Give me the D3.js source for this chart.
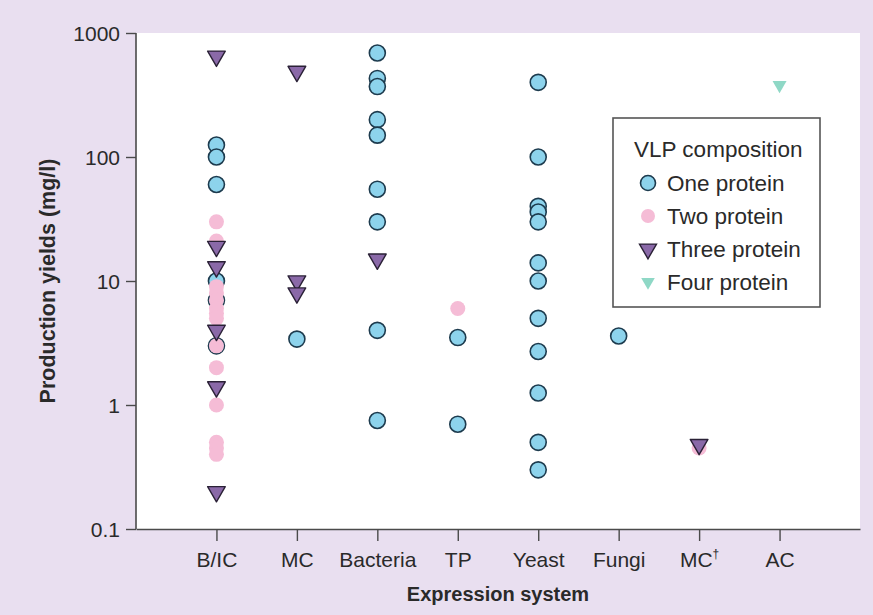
<!DOCTYPE html>
<html>
<head>
<meta charset="utf-8">
<script src="https://cdn.jsdelivr.net/npm/d3@7"></script>
<style>
  html, body { margin: 0; padding: 0; background: #e9dff0; }
  svg { display: block; font-family: "Liberation Sans", Arial, Helvetica, sans-serif; }
</style>
</head>
<body>
<svg id="chart" width="873" height="615"></svg>
<script>
// Expression systems along the x axis
const categories = ["B/IC", "MC", "Bacteria", "TP", "Yeast", "Fungi", "MC\u2020", "AC"];
const yTicks = [0.1, 1, 10, 100, 1000];

// Production yields (mg/l) by VLP composition, as [system, yield]
const oneProtein = [
  ["B/IC", 125], ["B/IC", 100], ["B/IC", 60], ["B/IC", 10], ["B/IC", 7], ["B/IC", 3],
  ["MC", 3.4],
  ["Bacteria", 690], ["Bacteria", 430], ["Bacteria", 370], ["Bacteria", 200], ["Bacteria", 150],
  ["Bacteria", 55], ["Bacteria", 30], ["Bacteria", 4], ["Bacteria", 0.75],
  ["TP", 3.5], ["TP", 0.7],
  ["Yeast", 400], ["Yeast", 100], ["Yeast", 40], ["Yeast", 36], ["Yeast", 30], ["Yeast", 14],
  ["Yeast", 10], ["Yeast", 5], ["Yeast", 2.7], ["Yeast", 1.25], ["Yeast", 0.5], ["Yeast", 0.3],
  ["Fungi", 3.6]
];
const twoProtein = [
  ["B/IC", 30], ["B/IC", 21], ["B/IC", 9], ["B/IC", 8], ["B/IC", 7], ["B/IC", 6], ["B/IC", 5.5],
  ["B/IC", 5], ["B/IC", 3], ["B/IC", 2], ["B/IC", 1], ["B/IC", 0.5], ["B/IC", 0.45], ["B/IC", 0.4],
  ["TP", 6],
  ["MC\u2020", 0.45]
];
const threeProtein = [
  ["B/IC", 650], ["B/IC", 19], ["B/IC", 13], ["B/IC", 4], ["B/IC", 1.4], ["B/IC", 0.2],
  ["MC", 490], ["MC", 10], ["MC", 8],
  ["Bacteria", 15],
  ["MC\u2020", 0.48]
];
const fourProtein = [
  ["AC", 380]
];

const svg = d3.select("#chart");
const plotLeft = 136, plotRight = 860, plotTop = 33, plotBottom = 529;

const x = d3.scalePoint().domain(categories).range([plotLeft, plotRight]).padding(1);
const y = d3.scaleLog().domain([0.1, 1000]).range([plotBottom, plotTop]);

// white plotting area
svg.append("rect")
  .attr("x", plotLeft).attr("y", plotTop)
  .attr("width", plotRight - plotLeft).attr("height", plotBottom - plotTop)
  .attr("fill", "#ffffff");

// axes
const yAxis = d3.axisLeft(y).tickValues(yTicks).tickSize(10).tickPadding(6)
  .tickFormat(d => d3.format("~g")(d));
const gy = svg.append("g").attr("transform", `translate(${plotLeft},0)`).call(yAxis);

const xAxis = d3.axisBottom(x).tickSize(12).tickPadding(8).tickSizeOuter(0);
const gx = svg.append("g").attr("transform", `translate(0,${plotBottom})`).call(xAxis);

[gy, gx].forEach(g => {
  g.select(".domain").attr("stroke", "#4a4a4a").attr("stroke-width", 1.6);
  g.selectAll(".tick line").attr("stroke", "#4a4a4a").attr("stroke-width", 1.4);
  g.selectAll(".tick text").attr("fill", "#2a2a2a").attr("font-size", 21)
    .attr("font-family", "Liberation Sans, Arial, sans-serif");
});
gy.select(".domain").attr("d", `M0,${plotBottom}V${plotTop}`);
gy.selectAll(".tick text").attr("dy", "0.35em");
gx.selectAll(".tick text").attr("dy", "0.85em");

// dagger on the second MC label is set as a small superscript
gx.selectAll(".tick text")
  .filter(d => d.endsWith("\u2020"))
  .each(function(d) {
    const t = d3.select(this).text(d.slice(0, -1));
    t.append("tspan").attr("font-size", 12).attr("dy", "-0.75em").text("\u2020");
  });

// axis titles
svg.append("text")
  .attr("x", (plotLeft + plotRight) / 2).attr("y", 601)
  .attr("text-anchor", "middle").attr("font-size", 20).attr("font-weight", "bold")
  .attr("fill", "#2a2a2a").text("Expression system");
svg.append("text")
  .attr("transform", `translate(55,${(plotTop + plotBottom) / 2}) rotate(-90)`)
  .attr("text-anchor", "middle").attr("font-size", 21.5).attr("font-weight", "bold")
  .attr("fill", "#2a2a2a").text("Production yields (mg/l)");

// marker styles
const downTri = d3.symbol().type(d3.symbolTriangle);
const styles = {
  one:   { fill: "#8dd3ec", stroke: "#1d3b4e", sw: 1.6 },
  two:   { fill: "#f5bcd6", stroke: "none", sw: 0 },
  three: { fill: "#8a69a8", stroke: "#2a2136", sw: 1.4 },
  four:  { fill: "#8fd8c6", stroke: "none", sw: 0 }
};

const marks = svg.append("g");

marks.selectAll("circle.one").data(oneProtein).join("circle")
  .attr("class", "one")
  .attr("cx", d => x(d[0])).attr("cy", d => y(d[1])).attr("r", 8)
  .attr("fill", styles.one.fill).attr("stroke", styles.one.stroke).attr("stroke-width", styles.one.sw);

marks.selectAll("circle.two").data(twoProtein).join("circle")
  .attr("class", "two")
  .attr("cx", d => x(d[0])).attr("cy", d => y(d[1])).attr("r", 7.5)
  .attr("fill", styles.two.fill);

marks.selectAll("path.three").data(threeProtein).join("path")
  .attr("class", "three")
  .attr("d", downTri.size(135)())
  .attr("transform", d => `translate(${x(d[0])},${y(d[1])}) rotate(180)`)
  .attr("fill", styles.three.fill).attr("stroke", styles.three.stroke).attr("stroke-width", styles.three.sw)
  .attr("stroke-linejoin", "round");

marks.selectAll("path.four").data(fourProtein).join("path")
  .attr("class", "four")
  .attr("d", downTri.size(85)())
  .attr("transform", d => `translate(${x(d[0])},${y(d[1])}) rotate(180)`)
  .attr("fill", styles.four.fill);

// legend
const legend = svg.append("g");
legend.append("rect")
  .attr("x", 613).attr("y", 118).attr("width", 207).attr("height", 189)
  .attr("fill", "#ffffff").attr("stroke", "#555555").attr("stroke-width", 1.6);
legend.append("text").attr("x", 634).attr("y", 157)
  .attr("font-size", 22.5).attr("fill", "#2a2a2a").text("VLP composition");

const legendItems = [
  { key: "one", label: "One protein" },
  { key: "two", label: "Two protein" },
  { key: "three", label: "Three protein" },
  { key: "four", label: "Four protein" }
];
const legendY = d3.scalePoint().domain(legendItems.map(d => d.key)).range([183, 282]);

legendItems.forEach(item => {
  const cy = legendY(item.key), cx = 648;
  const s = styles[item.key];
  if (item.key === "one") {
    legend.append("circle").attr("cx", cx).attr("cy", cy).attr("r", 7.5)
      .attr("fill", s.fill).attr("stroke", s.stroke).attr("stroke-width", s.sw);
  } else if (item.key === "two") {
    legend.append("circle").attr("cx", cx).attr("cy", cy).attr("r", 7).attr("fill", s.fill);
  } else {
    legend.append("path")
      .attr("d", downTri.size(item.key === "three" ? 125 : 80)())
      .attr("transform", `translate(${cx},${cy}) rotate(180)`)
      .attr("fill", s.fill).attr("stroke", s.stroke).attr("stroke-width", s.sw);
  }
  legend.append("text").attr("x", 667).attr("y", cy).attr("dy", "0.35em")
    .attr("font-size", 22.5).attr("fill", "#2a2a2a").text(item.label);
});
</script>
</body>
</html>
